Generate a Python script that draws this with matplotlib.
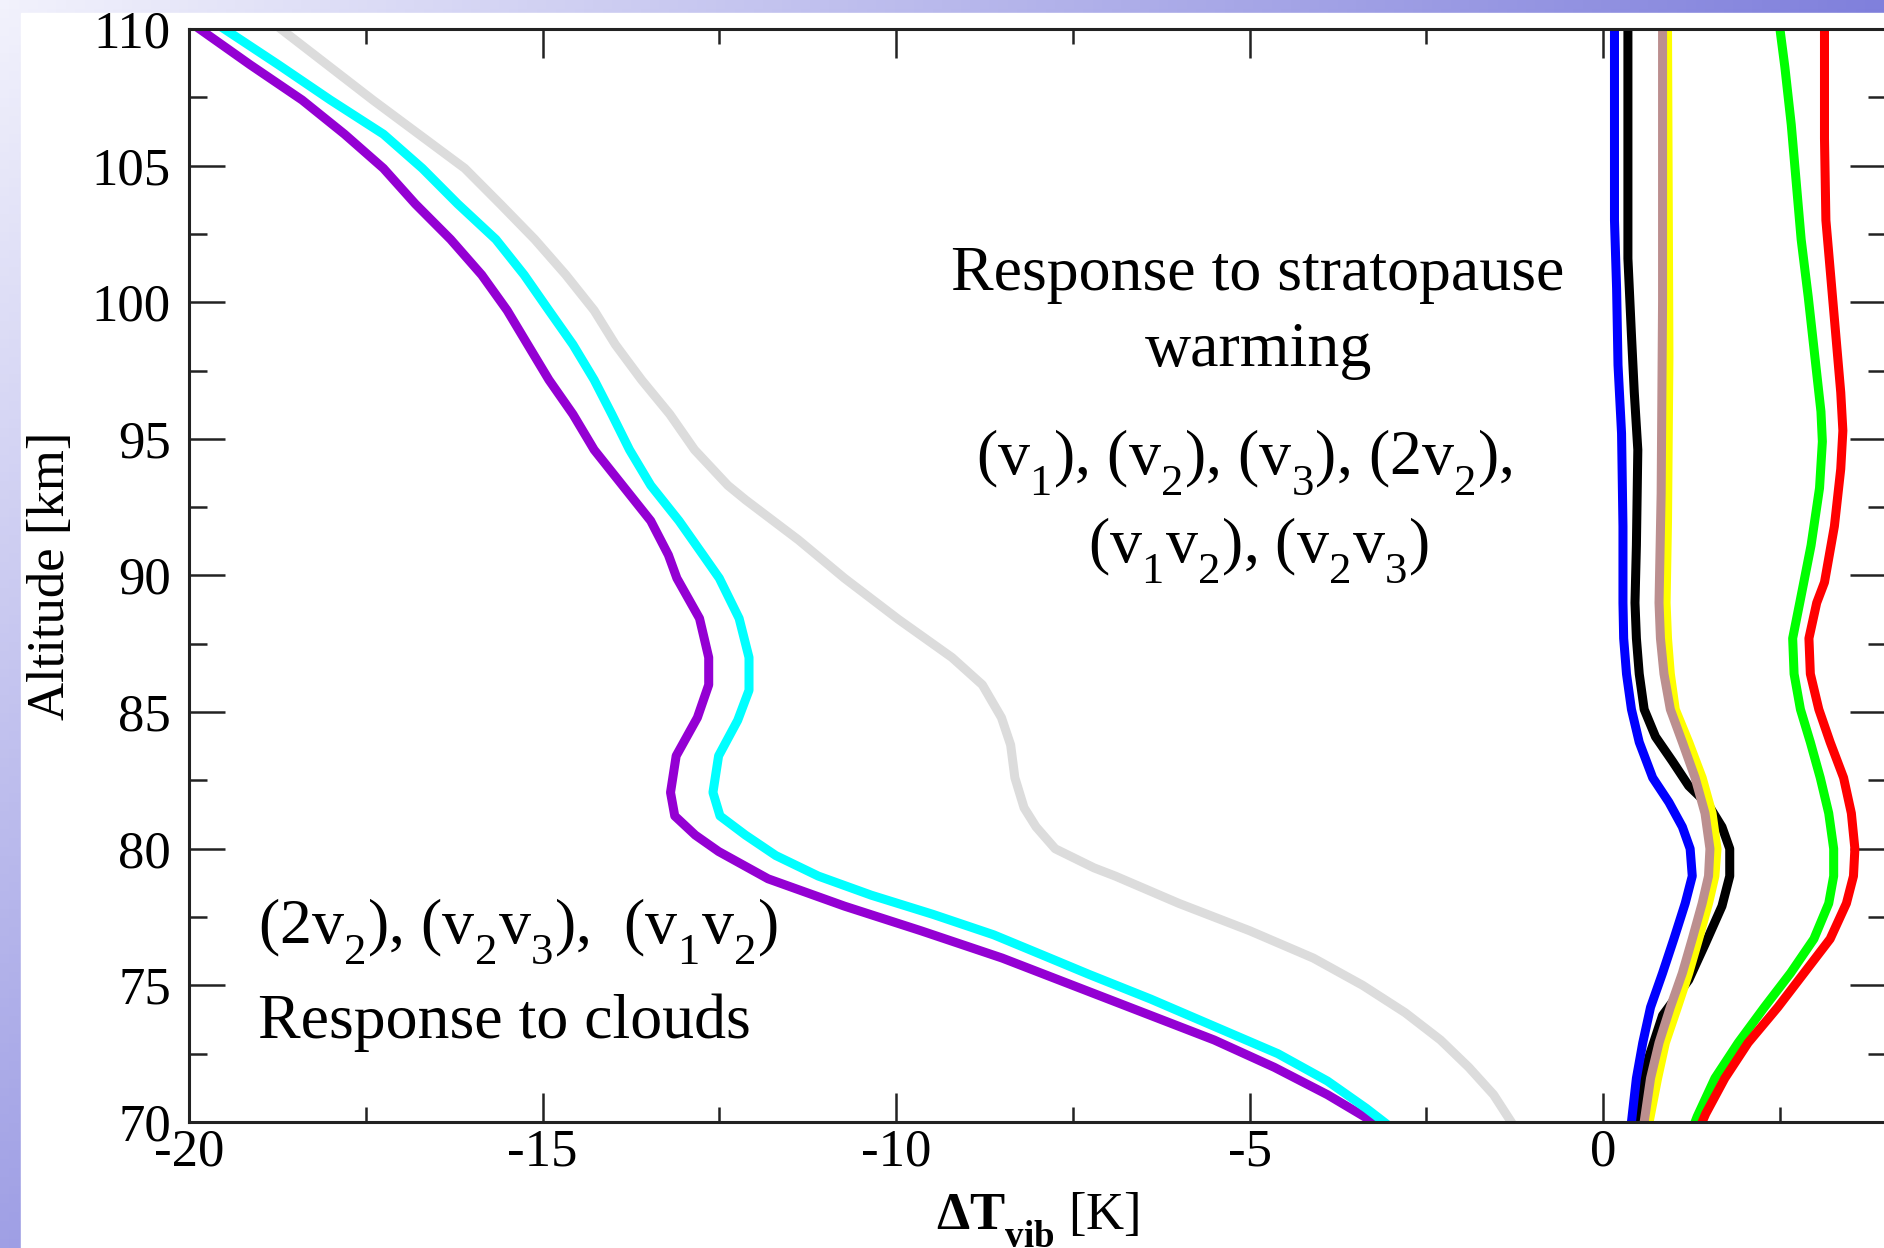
import numpy as np
import matplotlib
matplotlib.use("Agg")
import matplotlib.pyplot as plt
from matplotlib.patches import Rectangle
from matplotlib.ticker import MultipleLocator

plt.rcParams['font.family'] = ['Liberation Serif', 'DejaVu Serif']
plt.rcParams['mathtext.fontset'] = 'custom'
plt.rcParams['mathtext.rm'] = 'Liberation Serif'
plt.rcParams['mathtext.it'] = 'Liberation Serif:italic'
plt.rcParams['mathtext.bf'] = 'Liberation Serif:bold'

# subscripts sit lower in the original slide
try:
    from matplotlib import _mathtext
    _mathtext.FontConstantsBase.sub1 = 0.75
except Exception:
    pass

# ---- clouds response (left group) ----
alt_purple = [110, 108.7, 107.4, 106.15, 104.9, 103.6, 102.3, 101.0, 99.7, 98.45, 97.16, 95.9,
              94.6, 93.3, 92.0, 90.75, 89.9, 88.43, 87.0, 86.0, 84.8, 83.4, 82.06, 81.2, 80.5,
              79.9, 78.9, 77.9, 77.0, 76.0, 75.0, 74.0, 73.0, 72.0, 71.0, 70.0]
dT_purple = [-19.85, -19.14, -18.4, -17.8, -17.25, -16.8, -16.3, -15.86, -15.5, -15.21, -14.91, -14.57,
             -14.27, -13.87, -13.47, -13.22, -13.1, -12.78, -12.65, -12.65, -12.81, -13.11, -13.19, -13.13, -12.84,
             -12.51, -11.81, -10.73, -9.65, -8.5, -7.5, -6.5, -5.5, -4.65, -3.9, -3.25]

alt_cyan = [110, 108.7, 107.4, 106.15, 104.9, 103.6, 102.3, 101.0, 99.7, 98.45, 97.16, 95.9,
            94.6, 93.3, 92.0, 90.75, 89.9, 88.43, 87.0, 85.8, 84.7, 83.4, 82.06, 81.2, 80.5,
            79.75, 79.0, 78.3, 77.6, 76.85, 76.1, 75.4, 74.5, 73.5, 72.5, 71.5, 70.5, 70.0]
dT_cyan = [-19.5, -18.74, -18.0, -17.25, -16.7, -16.2, -15.66, -15.26, -14.91, -14.57, -14.27, -14.02,
           -13.77, -13.47, -13.07, -12.73, -12.5, -12.22, -12.08, -12.08, -12.24, -12.51, -12.59, -12.49, -12.13,
           -11.7, -11.1, -10.35, -9.48, -8.62, -7.92, -7.27, -6.4, -5.5, -4.6, -3.9, -3.35, -3.1]

alt_gray = [110, 108.7, 107.4, 106.15, 104.9, 103.6, 102.3, 101.0, 99.7, 98.45, 97.16, 95.9,
            94.6, 93.3, 92.77, 91.3, 89.9, 88.4, 87.0, 86.0, 84.8, 83.8, 82.6, 81.5, 80.8,
            80.0, 79.3, 79.0, 78.0, 77.0, 76.0, 75.0, 74.0, 73.0, 72.0, 71.0, 70.0]
dT_gray = [-18.7, -18.05, -17.4, -16.75, -16.1, -15.6, -15.11, -14.67, -14.27, -13.97, -13.6, -13.2,
           -12.85, -12.38, -12.13, -11.38, -10.73, -9.97, -9.21, -8.78, -8.51, -8.38, -8.32, -8.19, -8.02,
           -7.75, -7.2, -6.9, -6.0, -5.0, -4.1, -3.4, -2.8, -2.3, -1.9, -1.55, -1.3]

# ---- stratopause warming response (right group) ----
alt_blue = [110, 103, 100.5, 97.7, 95.2, 91.8, 89.0, 87.7, 86.4, 85.1, 83.9, 82.6, 81.7, 80.8,
            80.0, 79.0, 78.0, 76.7, 75.45, 74.2, 72.9, 71.6, 70.0]
dT_blue = [0.16, 0.16, 0.19, 0.21, 0.26, 0.28, 0.28, 0.29, 0.33, 0.40, 0.51, 0.70, 0.93, 1.12,
           1.23, 1.26, 1.16, 1.0, 0.84, 0.67, 0.56, 0.47, 0.40]

alt_black = [110, 101.6, 98.8, 96.7, 94.6, 91.1, 89.0, 87.7, 86.4, 85.1, 84.1, 83.2, 82.3, 81.6,
             80.8, 80.0, 79.0, 77.9, 76.5, 75.2, 73.9, 72.4, 70.85, 70.0]
dT_black = [0.35, 0.35, 0.40, 0.44, 0.49, 0.47, 0.45, 0.47, 0.51, 0.58, 0.74, 0.98, 1.21, 1.49,
            1.68, 1.79, 1.79, 1.68, 1.44, 1.21, 0.84, 0.65, 0.51, 0.49]

alt_brown = [110, 100, 93, 89.0, 87.7, 86.4, 85.1, 83.9, 82.6, 81.3, 80.0, 79.0, 78.0, 76.7,
             75.45, 74.2, 72.9, 71.6, 70.0]
dT_brown = [0.84, 0.84, 0.82, 0.79, 0.81, 0.86, 0.95, 1.12, 1.30, 1.44, 1.51, 1.49, 1.40, 1.26,
            1.12, 0.95, 0.79, 0.67, 0.58]

alt_yellow = [110, 98, 92, 89.0, 87.7, 86.4, 85.1, 83.9, 82.6, 81.3, 80.0, 79.0, 78.0, 76.7,
              75.45, 74.2, 72.9, 71.6, 70.0]
dT_yellow = [0.91, 0.93, 0.91, 0.89, 0.91, 0.95, 1.02, 1.21, 1.40, 1.54, 1.61, 1.58, 1.49, 1.35,
             1.21, 1.05, 0.88, 0.77, 0.65]

alt_green = [110, 108.6, 106.5, 104.4, 102.3, 100.2, 98.1, 96.0, 94.9, 93.2, 91.1, 89.0, 87.7, 86.4,
             85.1, 83.9, 82.6, 81.3, 80.0, 79.0, 78.0, 76.7, 75.45, 74.2, 72.9, 71.6, 70.2, 70.0]
dT_green = [2.5, 2.57, 2.66, 2.73, 2.80, 2.90, 2.99, 3.08, 3.10, 3.06, 2.94, 2.78, 2.68, 2.70,
            2.79, 2.93, 3.07, 3.19, 3.26, 3.26, 3.19, 2.98, 2.65, 2.28, 1.91, 1.58, 1.33, 1.30]

alt_red = [110, 106, 103, 100.9, 98.8, 96.7, 95.3, 93.9, 91.8, 89.75, 89.0, 87.7, 86.4, 85.1,
           83.9, 82.6, 81.3, 80.0, 79.0, 78.0, 76.7, 75.45, 74.2, 72.9, 71.6, 70.3, 70.0]
dT_red = [3.13, 3.13, 3.15, 3.22, 3.29, 3.36, 3.39, 3.36, 3.27, 3.13, 3.02, 2.91, 2.93, 3.05,
          3.21, 3.40, 3.51, 3.56, 3.54, 3.44, 3.21, 2.84, 2.47, 2.05, 1.72, 1.45, 1.40]

W, H = 1884, 1248
fig = plt.figure(figsize=(W / 100, H / 100), dpi=100)

# lavender slide background, white panel on top
bg = fig.add_axes([0, 0, 1, 1])
gx, gy = np.meshgrid(np.linspace(0, 1, 200), np.linspace(0, 1, 140))
t = 0.58 * gx + 0.42 * gy
c0 = np.array([242, 242, 252]) / 255.0
c1 = np.array([128, 128, 220]) / 255.0
grad = c0 + (c1 - c0) * t[..., None] / 0.58
bg.imshow(np.clip(grad, 0, 1), extent=[0, 1, 0, 1], aspect='auto', origin='upper')
bg.add_patch(Rectangle((21 / W, 0), 1, 1 - 13 / H, transform=bg.transAxes, color='white'))
bg.set_axis_off()

ax = fig.add_axes([189 / W, 1 - 1122 / H, (1886 - 189) / W, (1122 - 29) / H])
ax.patch.set_alpha(0)

lw = 6.5
ax.plot(dT_gray, alt_gray, color='#dcdcdc', lw=lw)
ax.plot(dT_purple, alt_purple, color='#9400d3', lw=lw)
ax.plot(dT_cyan, alt_cyan, color='#00ffff', lw=lw)
ax.plot(dT_black, alt_black, color='black', lw=lw)
ax.plot(dT_yellow, alt_yellow, color='#ffff00', lw=lw)
ax.plot(dT_brown, alt_brown, color='#bc8f8f', lw=lw)
ax.plot(dT_blue, alt_blue, color='#0000ff', lw=lw)
ax.plot(dT_green, alt_green, color='#00ff00', lw=lw)
ax.plot(dT_red, alt_red, color='#ff0000', lw=lw)

ax.set_xlim(-20, 4)
ax.set_ylim(70, 110)
ax.xaxis.set_major_locator(MultipleLocator(5))
ax.xaxis.set_minor_locator(MultipleLocator(2.5))
ax.yaxis.set_major_locator(MultipleLocator(5))
ax.yaxis.set_minor_locator(MultipleLocator(2.5))
ax.tick_params(axis='both', which='both', direction='in', top=True, right=True, width=1.8, color='#222222')
ax.tick_params(axis='x', which='major', length=21, pad=5, labelsize=38)
ax.tick_params(axis='x', which='minor', length=11)
ax.tick_params(axis='y', which='major', length=26, pad=13, labelsize=38)
ax.tick_params(axis='y', which='minor', length=13)
ax.xaxis.set_major_formatter(plt.FuncFormatter(lambda v, p: '%d' % v))
for s in ax.spines.values():
    s.set_linewidth(2.2)
    s.set_color('#222222')

ax.set_ylabel('Altitude [km]', fontsize=38, labelpad=12)
ax.set_xlabel(r'$\mathbf{\Delta T_{vib}}$ [K]', fontsize=38, labelpad=10)

ax.text(-4.88, 101.0, 'Response to stratopause', fontsize=46, ha='center', va='center')
ax.text(-4.88, 98.2, 'warming', fontsize=46, ha='center', va='center')
ax.text(-5.08, 94.1, r'(v$_1$), (v$_2$), (v$_3$), (2v$_2$),', fontsize=46, ha='center', va='center')
ax.text(-4.88, 90.9, r'(v$_1$v$_2$), (v$_2$v$_3$)', fontsize=46, ha='center', va='center')
ax.text(-19.03, 76.95, r'(2v$_2$), (v$_2$v$_3$),  (v$_1$v$_2$)', fontsize=46, ha='left', va='center')
ax.text(-19.03, 73.65, 'Response to clouds', fontsize=46, ha='left', va='center')

fig.savefig('out.png', dpi=100)
